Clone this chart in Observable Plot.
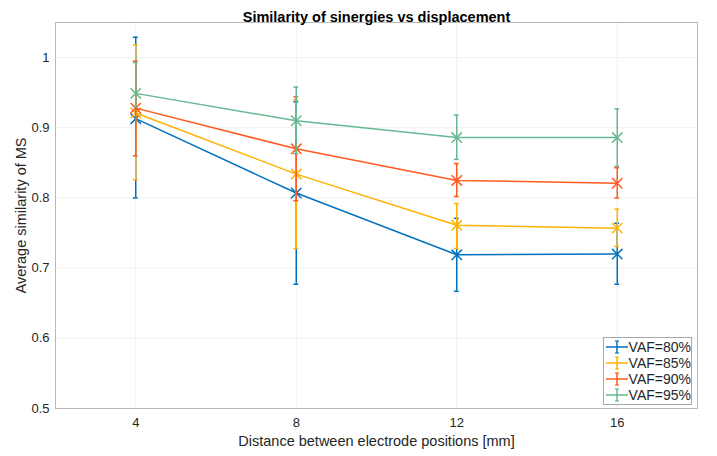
<!DOCTYPE html>
<html>
<head>
<meta charset="utf-8">
<script src="https://cdn.jsdelivr.net/npm/d3@7"></script>
<script src="https://cdn.jsdelivr.net/npm/@observablehq/plot@0.6"></script>
<style>
  html, body { margin: 0; padding: 0; background: #fff; }
  #wrap { position: relative; width: 717px; height: 456px; font-family: "Liberation Sans", Arial, Helvetica, sans-serif; }
  #legend { position: absolute; left: 603px; top: 337px; width: 87px; border: 1px solid #a8a8a8; background: #fff; padding: 1px 0; }
  .row { display: flex; align-items: center; height: 16px; font-size: 14px; color: #262626; }
  .row svg { margin: 0 0 0 1px; }
</style>
</head>
<body>
<div id="wrap"></div>
<script>
// Data
const distances = [4, 8, 12, 16];
const seriesNames = ["VAF=80%", "VAF=85%", "VAF=90%", "VAF=95%"];
const seriesColors = ["#0072BD", "#FFB300", "#FF5A1F", "#66B891"];
const mean80 = [0.913, 0.807, 0.719, 0.720];
const low80  = [0.800, 0.677, 0.667, 0.677];
const high80 = [1.029, 0.937, 0.771, 0.764];
const mean85 = [0.921, 0.834, 0.761, 0.757];
const low85  = [0.826, 0.728, 0.728, 0.731];
const high85 = [1.018, 0.940, 0.792, 0.784];
const mean90 = [0.928, 0.870, 0.825, 0.821];
const low90  = [0.860, 0.796, 0.802, 0.800];
const high90 = [0.995, 0.944, 0.849, 0.843];
const mean95 = [0.949, 0.910, 0.886, 0.886];
const low95  = [0.930, 0.863, 0.855, 0.845];
const high95 = [0.993, 0.958, 0.918, 0.927];
const yTicks = [0.5, 0.6, 0.7, 0.8, 0.9, 1];

const means = [mean80, mean85, mean90, mean95];
const lows = [low80, low85, low90, low95];
const highs = [high80, high85, high90, high95];

const capHalf = 0.06;
const marks = [
  Plot.gridX(distances, {stroke: "#efefef", strokeOpacity: 1}),
  Plot.gridY(yTicks, {stroke: "#efefef", strokeOpacity: 1}),
  Plot.frame({stroke: "#b8b8b8"})
];
seriesNames.forEach((name, s) => {
  const data = distances.map((x, i) => ({x, y: means[s][i], lo: lows[s][i], hi: highs[s][i]}));
  const c = seriesColors[s];
  marks.push(
    Plot.line(data, {x: "x", y: "y", stroke: c, strokeWidth: 1.5}),
    Plot.ruleX(data, {x: "x", y1: "lo", y2: "hi", stroke: c, strokeWidth: 1.5}),
    Plot.ruleY(data, {y: "lo", x1: d => d.x - capHalf, x2: d => d.x + capHalf, stroke: c, strokeWidth: 1.5}),
    Plot.ruleY(data, {y: "hi", x1: d => d.x - capHalf, x2: d => d.x + capHalf, stroke: c, strokeWidth: 1.5}),
    Plot.dot(data, {x: "x", y: "y", symbol: "times", r: 4.8, stroke: c, strokeWidth: 1.5})
  );
});
marks.push(
  Plot.text(["Similarity of sinergies vs displacement"], {frameAnchor: "top", dy: -11, fontWeight: "bold", fontSize: 14.5, fill: "#000"})
);

const chart = Plot.plot({
  width: 717,
  height: 456,
  marginLeft: 55,
  marginRight: 20,
  marginTop: 22,
  marginBottom: 48,
  style: {fontFamily: "'Liberation Sans', Arial, Helvetica, sans-serif", fontSize: "12px", color: "#262626", background: "#fff"},
  x: {domain: [2, 18], ticks: distances, tickSize: 0, tickPadding: 9, label: "Distance between electrode positions [mm]", labelAnchor: "center", labelArrow: "none", labelOffset: 37},
  y: {domain: [0.5, 1.05], ticks: yTicks, tickSize: 0, tickPadding: 6, tickFormat: d => d === 1 ? "1" : d3.format(".1f")(d), label: "Average similarity of MS", labelAnchor: "center", labelArrow: "none", labelOffset: 40},
  marks
});
chart.querySelectorAll("g[aria-label='x-axis label'] text, g[aria-label='y-axis label'] text").forEach(t => t.style.fontSize = "14.5px");
chart.querySelectorAll("g[aria-label='x-axis tick label'] text, g[aria-label='y-axis tick label'] text").forEach(t => t.style.fontSize = "13px");

const wrap = document.getElementById("wrap");
wrap.appendChild(chart);

const legend = document.createElement("div");
legend.id = "legend";
seriesNames.forEach((name, s) => {
  const row = document.createElement("div");
  row.className = "row";
  const c = seriesColors[s];
  row.innerHTML = `<svg width="24" height="14"><line x1="1" y1="7" x2="23" y2="7" stroke="${c}" stroke-width="1.5"/><line x1="12" y1="1" x2="12" y2="13" stroke="${c}" stroke-width="1.5"/><line x1="10" y1="1" x2="14" y2="1" stroke="${c}" stroke-width="1.2"/><line x1="10" y1="13" x2="14" y2="13" stroke="${c}" stroke-width="1.2"/></svg><span>${name}</span>`;
  legend.appendChild(row);
});
wrap.appendChild(legend);
</script>
</body>
</html>
